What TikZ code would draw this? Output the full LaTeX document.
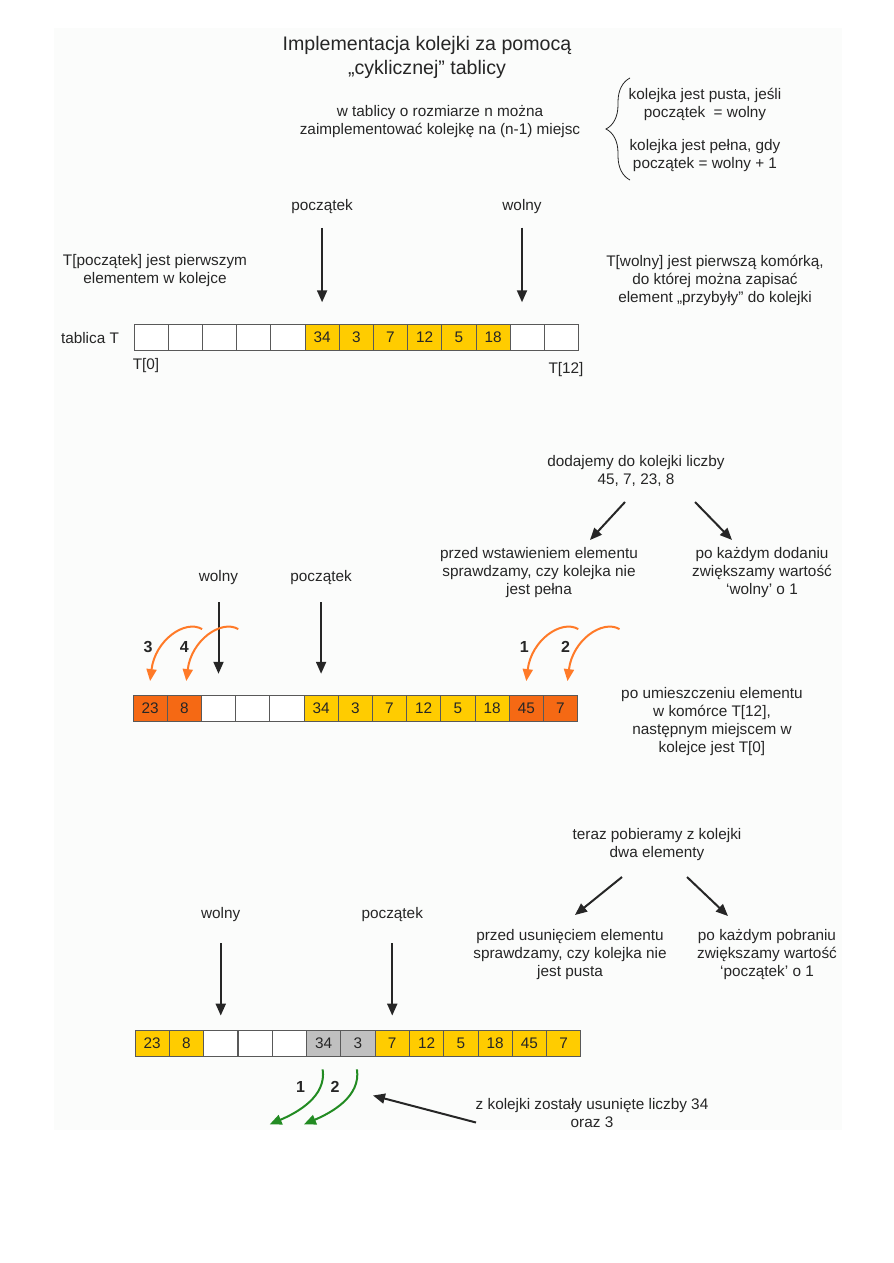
\documentclass[tikz,border=0pt]{standalone}
\usepackage{fontspec}
\setmainfont{Liberation Sans}
\usetikzlibrary{arrows.meta,positioning,calc,decorations.pathreplacing}

\definecolor{qyellow}{RGB}{255,204,0}
\definecolor{qorange}{RGB}{245,105,20}
\definecolor{qarc}{RGB}{255,122,40}
\definecolor{qgreen}{RGB}{34,139,34}
\definecolor{qgray}{RGB}{192,192,192}
\definecolor{qpaper}{RGB}{251,252,251}

\begin{document}
\begin{tikzpicture}[x=0.75pt, y=-0.75pt,
  txt/.style={align=center, inner sep=1pt, text=black!85, font=\fontsize{11.5}{13.5}\selectfont},
  title/.style={txt, font=\fontsize{14.7}{18}\selectfont},
  num/.style={txt, font=\fontsize{12}{14}\selectfont\bfseries},
  cell/.style={draw=black!65, line width=0.6pt, minimum width=25.65pt, minimum height=19.5pt, inner sep=0pt, text=black!85, font=\fontsize{11.5}{13.5}\selectfont},
  arr/.style={-{Triangle[length=9pt,width=7.5pt]}, line width=1.5pt, black!85},
  oarc/.style={arr, qarc},
  garc/.style={arr, qgreen},
  curly/.style={decorate, decoration={brace, amplitude=18pt}, line width=0.6pt, black!85}
]

\useasboundingbox (0,0) rectangle (893,1263);
\fill[white] (0,0) rectangle (893,1263);
\fill[qpaper] (54,28) rectangle (842,1130);

\node[title] (title) at (427,57) {Implementacja kolejki za pomocą\\„cyklicznej” tablicy};
\node[txt] (size) at (440,122) {w tablicy o rozmiarze n można\\zaimplementować kolejkę na (n-1) miejsc};
\node[txt] (empty) at (705,104) {kolejka jest pusta, jeśli\\początek\ \ = wolny};
\node[txt] (full) at (705,156) {kolejka jest pełna, gdy\\początek = wolny + 1};
\coordinate (braceTop) at (630,78);
\coordinate (braceBot) at (630,180);
\draw[curly] (braceBot) -- (braceTop);

% tablica na starcie
\foreach \v/\f [count=\i from 0] in {{}/white,{}/white,{}/white,{}/white,{}/white,34/qyellow,3/qyellow,7/qyellow,12/qyellow,5/qyellow,18/qyellow,{}/white,{}/white}
  \node[cell, fill=\f] (a\i) at ({134+34.2*(\i+0.5)},337) {\v};
\node[txt] (tab) at (90,338) {tablica T};
\node[txt] (t0) at (146,366) {T[0]};
\node[txt] (t12) at (566,370) {T[12]};
\node[txt] (head1) at (a5 |- 0,207) {początek};
\node[txt] (free1) at (522,207) {wolny};
\draw[arr, shorten <=9pt, shorten >=16pt] (head1) -- (head1 |- a5.north);
\draw[arr, shorten <=9pt, shorten >=16pt] (free1) -- (free1 |- a11.north);
\node[txt] (headnote) at (155,271) {T[początek] jest pierwszym\\elementem w kolejce};
\node[txt] (freenote) at (715,280) {T[wolny] jest pierwszą komórką,\\do której można zapisać\\element „przybyły” do kolejki};

% dodawanie
\node[txt] (add) at (636,471) {dodajemy do kolejki liczby\\45, 7, 23, 8};
\node[txt] (check1) at (539,573) {przed wstawieniem elementu\\sprawdzamy, czy kolejka nie\\jest pełna};
\node[txt] (inc1) at (762,573) {po każdym dodaniu\\zwiększamy wartość\\‘wolny’ o 1};
\draw[arr] ($(add)+(-11,31)$) -- ($(check1)+(51,-33)$);
\draw[arr] ($(add)+(59,31)$) -- ($(inc1)+(-30,-33)$);

\foreach \v/\f [count=\i from 0] in {23/qorange,8/qorange,{}/white,{}/white,{}/white,34/qyellow,3/qyellow,7/qyellow,12/qyellow,5/qyellow,18/qyellow,45/qorange,7/qorange}
  \node[cell, fill=\f] (b\i) at ({133+34.2*(\i+0.5)},708.5) {\v};
\node[txt] (free2) at (b2 |- 0,578) {wolny};
\node[txt] (head2) at (b5 |- 0,578) {początek};
\draw[arr, shorten <=11.5pt, shorten >=16pt] (free2) -- (b2);
\draw[arr, shorten <=11.5pt, shorten >=16pt] (head2) -- (b5);
\foreach \c/\n/\dx in {b0/3/0, b1/4/2, b11/1/0, b12/2/7} {
  \draw[oarc] ($(\c.north)+(52+\dx,-66)$) .. controls +(-17,-10) and +(5,-41) .. ($(\c.north)+(\dx,-14)$);
  \node[num] (n\n) at ($(\c.north)+(\dx-2,-48)$) {\n};
}
\node[txt] (wrap) at (712,722) {po umieszczeniu elementu\\w komórce T[12],\\następnym miejscem w\\kolejce jest T[0]};

% pobieranie
\node[txt] (take) at (657,845) {teraz pobieramy z kolejki\\dwa elementy};
\node[txt] (check2) at (570,955) {przed usunięciem elementu\\sprawdzamy, czy kolejka nie\\jest pusta};
\node[txt] (inc2) at (767,955) {po każdym pobraniu\\zwiększamy wartość\\‘początek’ o 1};
\draw[arr] ($(take)+(-35,32)$) -- ($(check2)+(5,-40)$);
\draw[arr] ($(take)+(30,32)$) -- ($(inc2)+(-39,-39)$);

\foreach \v/\f [count=\i from 0] in {23/qyellow,8/qyellow,{}/white,{}/white,{}/white,34/qgray,3/qgray,7/qyellow,12/qyellow,5/qyellow,18/qyellow,45/qyellow,7/qyellow}
  \node[cell, fill=\f] (c\i) at ({135+34.3*(\i+0.5)},1043) {\v};
\node[txt] (free3) at (c2 |- 0,915) {wolny};
\node[txt] (head3) at (c7 |- 0,915) {początek};
\draw[arr, shorten <=14.5pt, shorten >=10.5pt] (free3) -- (c2);
\draw[arr, shorten <=14.5pt, shorten >=10.5pt] (head3) -- (c7);
\foreach \c/\n in {c5/1, c6/2} {
  \draw[garc] ($(\c.south)+(-1,13)$) .. controls +(4,27) and +(28,-12) .. ($(\c.south)+(-54,68)$);
  \node[num] (m\n) at ($(\c.south)+(-23,31)$) {\n};
}
\node[txt] (removed) at (592,1113.5) {z kolejki zostały usunięte liczby 34\\oraz 3};
\draw[arr] ($(removed)+(-116,9)$) -- ($(removed)+(-219,-18)$);

\end{tikzpicture}
\end{document}
